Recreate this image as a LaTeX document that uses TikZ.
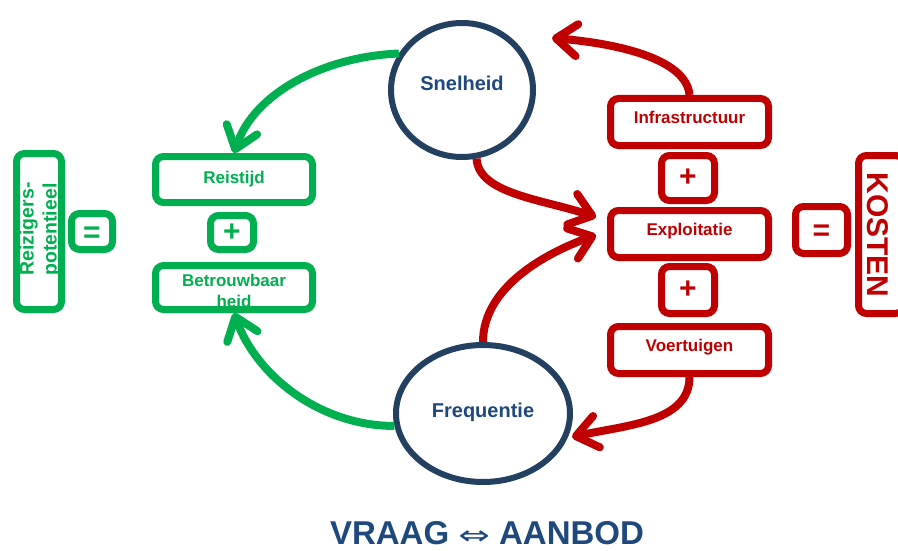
\documentclass[tikz,border=0pt]{standalone}
\usepackage{fontspec}
\usepackage{graphicx}
\setmainfont{Liberation Sans}
\newfontfamily\arrowfont{DejaVu Sans}
\usetikzlibrary{shapes.geometric,arrows.meta,calc}

\definecolor{gr}{RGB}{0,176,80}
\definecolor{rd}{RGB}{192,0,0}
\definecolor{navy}{RGB}{36,64,97}
\definecolor{navytext}{RGB}{31,73,125}

\tikzset{
  box/.style={rectangle, rounded corners=8pt, line width=7pt, inner sep=0pt,
    align=center, font=\fontsize{17}{20}\selectfont\bfseries},
  gbox/.style={box, draw=gr, text=gr},
  rbox/.style={box, draw=rd, text=rd},
  lift/.style={text height=12.4pt, text depth=#1},
  sign/.style={font=\fontsize{30}{30}\selectfont\bfseries},
  eqsign/.style={sign, text height=21pt, text depth=0pt},
  oval/.style={ellipse, draw=navy, line width=6pt, fill=white, inner sep=0pt,
    text=navytext, font=\fontsize{20}{24}\selectfont\bfseries},
  barb/.style={-{Straight Barb[length=21pt, width=32pt, round]}},
  garrow/.style={draw=gr, line width=8pt, barb},
  rarrow/.style={draw=rd, line width=8pt, barb},
}

\begin{document}
\begin{tikzpicture}[x=1pt, y=1pt]
\useasboundingbox (0,0) rectangle (898,-551);
\clip (0,0) rectangle (898,-551);
\fill[white] (0,0) rectangle (898,-551);

% the two circles of the cycle
\node[oval, minimum width=142pt, minimum height=134pt, text height=14.5pt, text depth=14pt]
  (snel) at (462,-90) {Snelheid};
\node[oval, minimum width=174pt, minimum height=137pt, text height=14.5pt, text depth=7pt]
  (freq) at (483,-413.5) {Frequentie};

% demand side (green)
\node[gbox, minimum width=157pt, minimum height=46pt] (reis) at (234,-179.5) {Reistijd};
\node[gbox, sign, minimum width=43pt, minimum height=34pt] (gplus) at (232,-232.5) {+};
\node[text=gr, align=center, font=\fontsize{17}{21}\selectfont\bfseries]
  (betrtxt) at (234,-291) {Betrouwbaar\\heid};
\node[gbox, minimum width=157pt, minimum height=44pt] (betr) at (234,-287.5) {};
\node[gbox, minimum width=45pt, minimum height=156pt] (reiz) at (39,-231.5) {};
\node[text=gr, rotate=90, align=left, inner sep=0pt,
  font=\fontsize{19.5}{23}\selectfont\bfseries] (reiztxt) at (40,-229) {Reizigers-\\potentieel};
\node[gbox, eqsign, minimum width=41pt, minimum height=36pt] (geq) at (92,-231.5) {=};

% supply side (red)
\node[rbox, lift=10pt, minimum width=158pt, minimum height=47pt] (infra) at (689.5,-122) {Infrastructuur};
\node[rbox, sign, minimum width=53pt, minimum height=45pt] (rplusa) at (688,-178) {+};
\node[rbox, lift=10pt, minimum width=158pt, minimum height=47pt] (expl) at (689.5,-234) {Exploitatie};
\node[rbox, sign, minimum width=53pt, minimum height=47pt] (rplusb) at (688,-290) {+};
\node[rbox, lift=10pt, minimum width=158pt, minimum height=47pt] (voer) at (689.5,-350) {Voertuigen};
\node[rbox, eqsign, minimum width=52pt, minimum height=47pt] (req) at (821.5,-230) {=};
\node[rbox, minimum width=45pt, minimum height=158pt] (kost) at (881,-234.5) {};
\node[text=rd, rotate=-90, inner sep=0pt, font=\fontsize{30}{30}\selectfont\bfseries]
  (kosttxt) at (878,-235) {KOSTEN};

% free ends of the arrows that stop short of a border
\coordinate (snelin) at (552,-38);
\coordinate (explina) at (596,-217);
\coordinate (explinb) at (596,-235);
\coordinate (freqin) at (572,-437);

% connectors
\draw[garrow] (snel.150) .. controls +(-75,-3) and +(20,60) .. (reis.north);
\draw[garrow] (freq.188) .. controls +(-75,0) and +(22,-62) .. (betr.south);
\draw[rarrow] (infra.north) .. controls +(-3,35) and +(70,-6) .. (snelin);
\draw[rarrow] (snel.-78) .. controls +(2,-35) and +(-55,18) .. (explina);
\draw[rarrow] (freq.90) .. controls +(0,55) and +(-50,-18) .. (explinb);
\draw[rarrow] (voer.south) .. controls +(0,-45) and +(55,12) .. (freqin);

% caption
\node[text=navytext, anchor=base, inner sep=0pt, font=\fontsize{33}{33}\selectfont\bfseries]
  (caption) at (487,-544) {VRAAG {\arrowfont\mdseries\fontsize{26}{26}\selectfont\scalebox{1.45}[1]{⇔}} AANBOD};
\end{tikzpicture}
\end{document}
